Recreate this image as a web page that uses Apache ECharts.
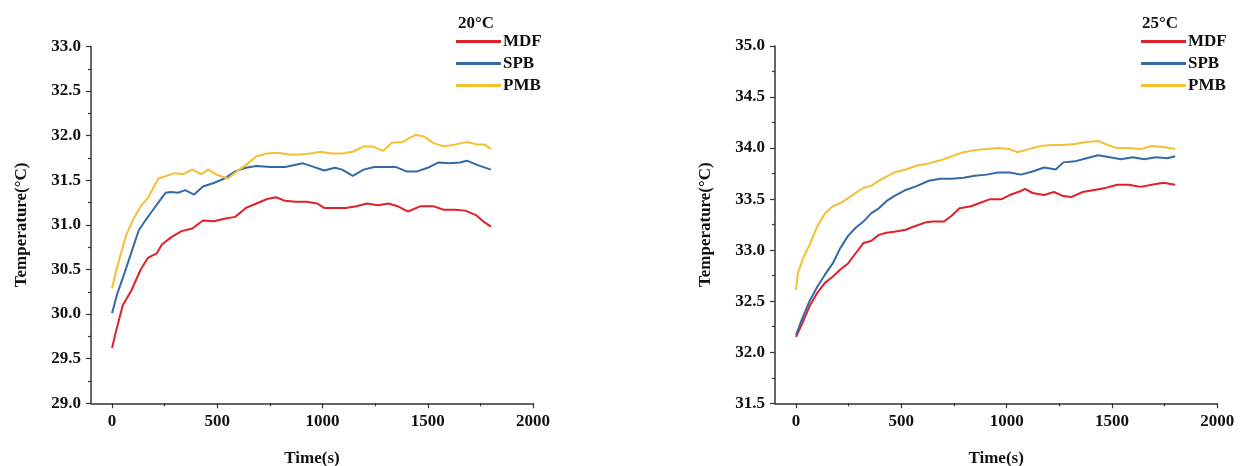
<!DOCTYPE html>
<html>
<head>
<meta charset="utf-8">
<script src="https://cdn.jsdelivr.net/npm/echarts@6/dist/echarts.min.js"></script>
<style>html,body{margin:0;padding:0;background:#fff}#c{width:1244px;height:466px}</style>
</head>
<body>
<div id="c"></div>
<script>
// ---- Data ----
const seriesNames = ['MDF', 'SPB', 'PMB'];
const chartTitles = ['20°C', '25°C'];
const xTickLabels = [0, 500, 1000, 1500, 2000];
const xMinorTicks = [250, 750, 1250, 1750];

// 20°C panel
const t20_MDF = [0,20,51,93,136,170,212,237,280,330,381,432,483,534,585,636,686,737,780,822,873,924,975,1008,1059,1110,1161,1212,1263,1314,1356,1407,1466,1525,1576,1627,1678,1729,1763,1800];
const v20_MDF = [29.62,29.82,30.10,30.27,30.50,30.63,30.68,30.78,30.86,30.93,30.96,31.05,31.04,31.07,31.09,31.19,31.24,31.29,31.31,31.27,31.26,31.26,31.24,31.19,31.19,31.19,31.21,31.24,31.22,31.24,31.21,31.15,31.21,31.21,31.17,31.17,31.16,31.11,31.04,30.98];
const t20_SPB = [0,25,59,93,127,161,195,229,254,280,314,347,390,432,483,534,585,636,686,754,822,907,958,1008,1059,1093,1144,1195,1246,1297,1347,1398,1449,1500,1551,1602,1653,1686,1737,1800];
const v20_SPB = [30.01,30.23,30.46,30.70,30.94,31.06,31.17,31.28,31.36,31.37,31.36,31.39,31.34,31.43,31.47,31.52,31.60,31.64,31.66,31.65,31.65,31.69,31.65,31.61,31.64,31.62,31.55,31.62,31.65,31.65,31.65,31.60,31.60,31.64,31.70,31.69,31.70,31.72,31.67,31.62];
const t20_PMB = [0,17,42,68,102,136,170,195,220,246,297,339,381,424,458,500,551,593,636,686,737,788,839,890,941,992,1042,1093,1144,1195,1237,1288,1330,1381,1441,1483,1525,1576,1627,1686,1737,1771,1800];
const v20_PMB = [30.29,30.46,30.68,30.89,31.07,31.21,31.30,31.41,31.52,31.54,31.58,31.57,31.62,31.57,31.62,31.56,31.52,31.60,31.67,31.77,31.80,31.81,31.79,31.79,31.80,31.82,31.80,31.80,31.82,31.88,31.88,31.83,31.92,31.93,32.01,31.99,31.92,31.88,31.90,31.93,31.90,31.90,31.85];

// 25°C panel
const t25_MDF = [0,27,64,100,137,174,210,247,283,320,356,393,429,466,521,557,612,648,703,740,776,831,868,922,977,1014,1068,1087,1123,1178,1224,1269,1306,1361,1416,1470,1525,1580,1635,1689,1744,1800];
const v25_MDF = [32.15,32.27,32.45,32.58,32.68,32.74,32.81,32.87,32.97,33.07,33.09,33.15,33.17,33.18,33.20,33.23,33.27,33.28,33.28,33.34,33.41,33.43,33.46,33.50,33.50,33.54,33.58,33.60,33.56,33.54,33.57,33.53,33.52,33.57,33.59,33.61,33.64,33.64,33.62,33.64,33.66,33.64];
const t25_SPB = [0,27,64,100,137,174,210,247,283,320,356,393,429,466,521,575,630,685,740,795,849,904,959,1014,1068,1123,1178,1233,1269,1324,1379,1434,1489,1543,1598,1653,1708,1763,1800];
const v25_SPB = [32.17,32.32,32.50,32.64,32.76,32.87,33.02,33.14,33.22,33.28,33.36,33.41,33.48,33.53,33.59,33.63,33.68,33.70,33.70,33.71,33.73,33.74,33.76,33.76,33.74,33.77,33.81,33.79,33.86,33.87,33.90,33.93,33.91,33.89,33.91,33.89,33.91,33.90,33.92];
const t25_PMB = [0,9,37,64,100,137,174,210,247,283,320,356,393,429,466,521,575,630,685,740,795,849,904,959,1014,1050,1105,1160,1215,1269,1324,1379,1434,1479,1525,1580,1635,1689,1744,1800];
const v25_PMB = [32.61,32.78,32.94,33.05,33.23,33.36,33.43,33.46,33.51,33.56,33.61,33.63,33.68,33.72,33.76,33.79,33.83,33.85,33.88,33.92,33.96,33.98,33.99,34.00,33.99,33.96,33.99,34.02,34.03,34.03,34.04,34.06,34.07,34.03,34.00,34.00,33.99,34.02,34.01,33.99];

const colors = ['#e02129', '#346aa6', '#f4bf32'];
const FONT = '"Liberation Serif", "Times New Roman", serif';
const zip = (t, v) => t.map((x, i) => [x, v[i]]);

const panels = [
  { series: [zip(t20_MDF, v20_MDF), zip(t20_SPB, v20_SPB), zip(t20_PMB, v20_PMB)], ymin: 29, ymax: 33,
    grid: { left: 91, right: 711, top: 46.5, bottom: 62.7, outerBoundsMode: 'none', containLabel: false }, legendLeft: 456, titleLeft: 458 },
  { series: [zip(t25_MDF, v25_MDF), zip(t25_SPB, v25_SPB), zip(t25_PMB, v25_PMB)], ymin: 31.5, ymax: 35,
    grid: { left: 775, right: 26.7, top: 46, bottom: 62.7, outerBoundsMode: 'none', containLabel: false }, legendLeft: 1141, titleLeft: 1142 }
];

const FS = 17;
const axisLine = { show: true, onZero: false, lineStyle: { color: '#333', width: 1.5 } };
const labelStyle = { fontFamily: FONT, fontWeight: 'bold', fontSize: FS, color: '#111' };

const option = {
  animation: false,
  color: colors,
  title: panels.map((p, i) => ({ text: chartTitles[i], left: p.titleLeft, top: 15, padding: 0,
    textStyle: { fontFamily: FONT, fontWeight: 'bold', fontSize: FS, color: '#111' } })),
  legend: panels.map((p, i) => ({ orient: 'vertical', left: p.legendLeft, top: 33, padding: 0,
    icon: 'rect', itemWidth: 45, itemHeight: 3, itemGap: 5, data: seriesNames,
    textStyle: { fontFamily: FONT, fontWeight: 'bold', fontSize: FS, color: '#111', padding: [0, 0, 0, -3] } })),
  grid: panels.map(p => p.grid),
  xAxis: [],
  yAxis: [],
  series: []
};

panels.forEach((p, i) => {
  // main x axis: labels + minor-length ticks
  option.xAxis.push({
    type: 'value', gridIndex: i, min: -100, max: 2000, position: 'bottom',
    name: 'Time(s)', nameLocation: 'middle', nameGap: 47,
    nameTextStyle: { fontFamily: FONT, fontWeight: 'bold', fontSize: FS, color: '#111' },
    axisLine: axisLine, splitLine: { show: false },
    axisTick: { show: true, customValues: xMinorTicks, length: 3, lineStyle: { color: '#333', width: 1.2 } },
    axisLabel: Object.assign({ customValues: xTickLabels, margin: 10, formatter: v => String(v) }, labelStyle)
  });
  // overlay x axis: major ticks
  option.xAxis.push({
    type: 'value', gridIndex: i, min: -100, max: 2000, position: 'bottom', offset: 0,
    axisLine: { show: false, onZero: false }, splitLine: { show: false }, axisLabel: { show: false },
    axisTick: { show: true, customValues: xTickLabels, length: 5, lineStyle: { color: '#333', width: 1.2 } }
  });
  option.yAxis.push({
    type: 'value', gridIndex: i, min: p.ymin, max: p.ymax, interval: 0.5,
    name: 'Temperature(°C)', nameLocation: 'middle', nameGap: 61,
    nameTextStyle: { fontFamily: FONT, fontWeight: 'bold', fontSize: FS, color: '#111' },
    axisLine: axisLine, splitLine: { show: false },
    axisTick: { show: true, length: 5, lineStyle: { color: '#333', width: 1.2 } },
    minorTick: { show: true, splitNumber: 2, length: 3, lineStyle: { color: '#333', width: 1.2 } },
    minorSplitLine: { show: false },
    axisLabel: Object.assign({ margin: 10, formatter: v => v.toFixed(1) }, labelStyle)
  });
  p.series.forEach((d, k) => {
    option.series.push({
      type: 'line', name: seriesNames[k], xAxisIndex: i * 2, yAxisIndex: i,
      data: d, showSymbol: false, symbol: 'none',
      lineStyle: { width: 2, color: colors[k] }, itemStyle: { color: colors[k] }
    });
  });
});

const chart = echarts.init(document.getElementById('c'), null, { renderer: 'canvas' });
chart.setOption(option);
</script>
</body>
</html>
